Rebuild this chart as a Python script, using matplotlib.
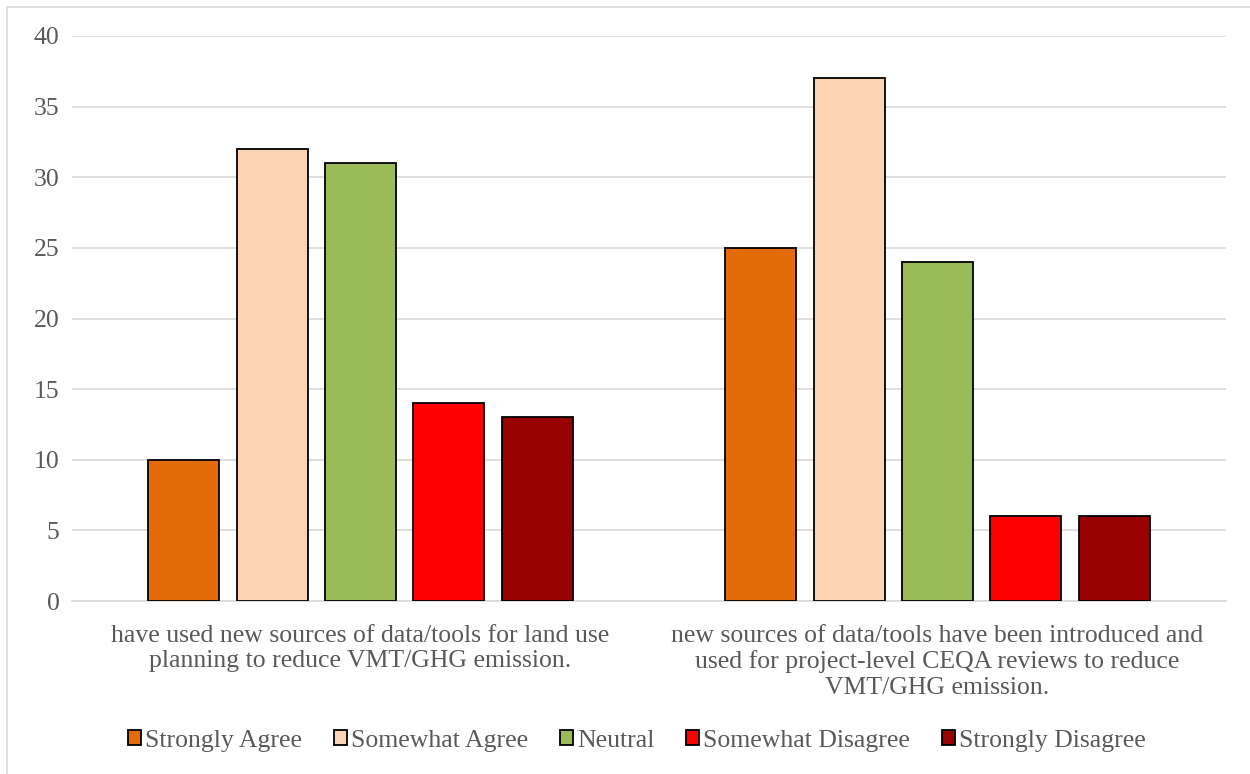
import numpy as np
import matplotlib
matplotlib.use("Agg")
import matplotlib.pyplot as plt
from matplotlib.patches import Rectangle

# ── data ─────────────────────────────────────────────────────────────────────
categories = [
    "have used new sources of data/tools for land use\nplanning to reduce VMT/GHG emission.",
    "new sources of data/tools have been introduced and\nused for project-level CEQA reviews to reduce\nVMT/GHG emission.",
]
series_names = ["Strongly Agree", "Somewhat Agree", "Neutral",
                "Somewhat Disagree", "Strongly Disagree"]
strongly_agree = [10, 25]
somewhat_agree = [32, 37]
neutral = [31, 24]
somewhat_disagree = [14, 6]
strongly_disagree = [13, 6]
colors = ["#E36C09", "#FBD4B4", "#9BBB59", "#FF0000", "#990000"]

values = [strongly_agree, somewhat_agree, neutral, somewhat_disagree, strongly_disagree]

plt.rcParams["font.family"] = ["Liberation Serif", "DejaVu Serif"]
text_color = "#595959"
fs = 18.5

fig = plt.figure(figsize=(12.5, 7.74), dpi=100)
ax = fig.add_axes([0.0576, 0.2235, 0.9232, 0.73])

# outer chart frame
fig.patches.append(Rectangle((7 / 1250, -0.1), 1.2, 1.1 - 7 / 774,
                             transform=fig.transFigure, fill=False,
                             edgecolor="#d9d9d9", linewidth=1.2))

x = np.arange(len(categories))
step = 0.153
width = 0.123
for i, (name, vals, c) in enumerate(zip(series_names, values, colors)):
    ax.bar(x + (i - 2) * step, vals, width, color=c, edgecolor="black",
           linewidth=1.3, label=name, zorder=3)

ax.set_xlim(-0.5, 1.5)
ax.set_ylim(0, 40)
ax.set_yticks(range(0, 41, 5))
ax.grid(axis="y", color="#d9d9d9", linewidth=1.2, zorder=0)
for s in ["top", "right", "left"]:
    ax.spines[s].set_visible(False)
ax.spines["bottom"].set_color("#d9d9d9")
ax.spines["bottom"].set_linewidth(1.2)
ax.tick_params(axis="both", length=0, labelsize=fs, colors=text_color)
ax.tick_params(axis="x", pad=17)
ax.tick_params(axis="y", pad=9)
ax.set_xticks(x)
ax.set_xticklabels(categories, fontsize=fs, color=text_color, linespacing=1.2)

fig.legend(loc="center", bbox_to_anchor=(0.5095, 0.043), ncol=5, frameon=False,
           fontsize=fs, labelcolor=text_color, handlelength=0.5, handleheight=0.5,
           handletextpad=0.15, columnspacing=1.25)

fig.savefig("out.png", dpi=100)
